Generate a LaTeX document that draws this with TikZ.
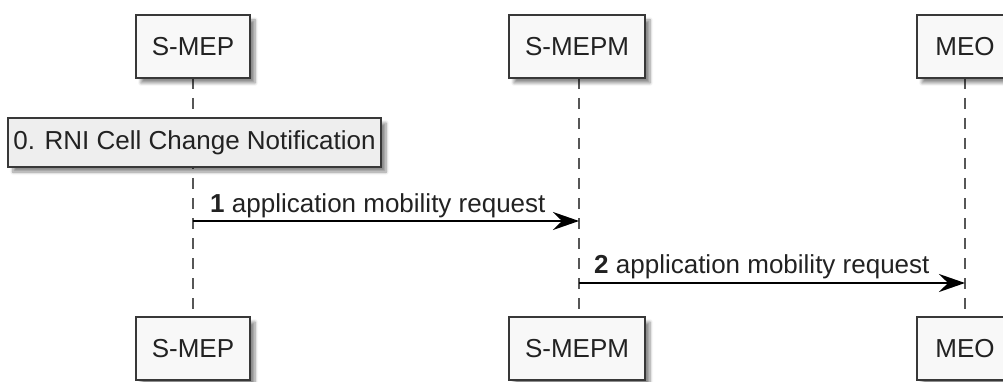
\documentclass[tikz,border=0pt]{standalone}
\usepackage{fontspec}
\setmainfont{Liberation Sans}
\usetikzlibrary{arrows.meta,shadows.blur}
\definecolor{boxline}{HTML}{383838}
\definecolor{partfill}{HTML}{F8F8F8}
\definecolor{notefill}{HTML}{EEEEEE}
\definecolor{txt}{HTML}{222222}
\tikzset{
  part/.style={draw=boxline, line width=1.6pt, fill=partfill, minimum height=63pt,
    inner sep=0pt, text=txt, font=\fontsize{26}{30}\selectfont,
    blur shadow={shadow xshift=5pt, shadow yshift=-5pt, shadow blur steps=6, shadow blur radius=3pt, shadow opacity=45}},
  notebox/.style={draw=boxline, line width=1.6pt, fill=notefill, minimum width=373pt, minimum height=49pt,
    inner sep=0pt, text=txt, font=\fontsize{26}{30}\selectfont,
    blur shadow={shadow xshift=5pt, shadow yshift=-5pt, shadow blur steps=6, shadow blur radius=3pt, shadow opacity=45}},
  life/.style={draw=boxline!85, line width=1.5pt, dash pattern=on 11pt off 9pt},
  msg/.style={draw=black, line width=1.6pt, -{Stealth[length=26pt, width=18pt, inset=9pt]}},
  lbl/.style={anchor=base west, inner sep=0pt, text=txt, font=\fontsize{26}{30}\selectfont},
}
\begin{document}
\begin{tikzpicture}[x=1pt, y=-1pt]
\useasboundingbox (0,0) rectangle (1003,382);
% lifelines first (behind boxes)
\coordinate (l1t) at (193,78);
\coordinate (l1b) at (193,317);
\coordinate (l2t) at (579,78);
\coordinate (l2b) at (579,317);
\coordinate (l3t) at (965,78);
\coordinate (l3b) at (965,317);
\draw[life] (l1t) -- (l1b);
\draw[life] (l2t) -- (l2b);
\draw[life] (l3t) -- (l3b);
% participants
\node[part, minimum width=114pt] (p1t) at (193,46.5) {S-MEP};
\node[part, minimum width=136pt] (p2t) at (577,46.5) {S-MEPM};
\node[part, minimum width=96pt] (p3t) at (965,46.5) {MEO};
\node[part, minimum width=114pt] (p1b) at (193,348.5) {S-MEP};
\node[part, minimum width=136pt] (p2b) at (577,348.5) {S-MEPM};
\node[part, minimum width=96pt] (p3b) at (965,348.5) {MEO};
% note
\node[notebox] (note) at (194.5,142.5) {0. RNI Cell Change Notification};
% messages
\coordinate (m1s) at (193,221);
\coordinate (m1e) at (579,221);
\coordinate (m2s) at (579,283);
\coordinate (m2e) at (965,283);
\draw[msg] (m1s) -- (m1e);
\draw[msg] (m2s) -- (m2e);
\node[lbl] (t1) at (210,212) {\textbf{1} application mobility request};
\node[lbl] (t2) at (594,273) {\textbf{2} application mobility request};
\end{tikzpicture}
\end{document}
